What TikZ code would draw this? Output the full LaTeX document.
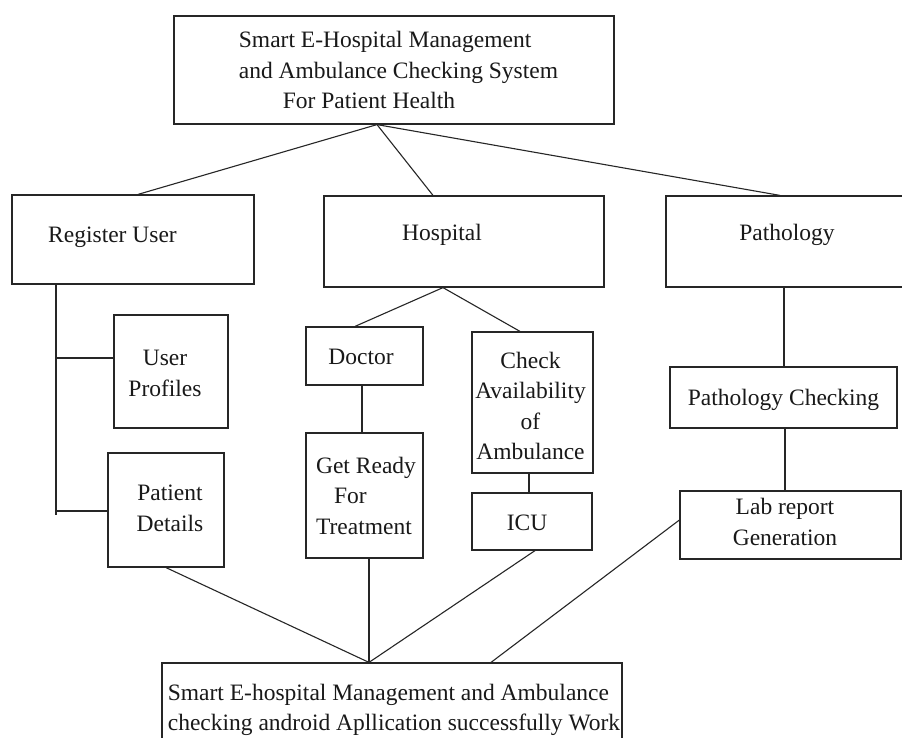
\documentclass[tikz,border=0pt]{standalone}
\usepackage{fontspec}
\setmainfont{Liberation Serif}
\begin{document}
\begin{tikzpicture}[x=1pt,y=-1pt,
  box/.style={draw=black!85, line width=1.2pt, inner sep=0pt},
  txt/.style={font=\fontsize{23.5}{30.5}\selectfont, inner sep=0pt, text=black!90},
  conn/.style={draw=black!85, line width=1.1pt}]
\useasboundingbox (0,0) rectangle (902,738);
\clip (0,0) rectangle (902,738);
\fill[white] (0,0) rectangle (902,738);

\node[box, minimum width=440, minimum height=108,
  label={[txt, align=left, shift={(4.5,0)}]center:{Smart E-Hospital Management\\and Ambulance Checking System\\\hspace*{44pt}For Patient Health}}] (top) at (394,70) {};
\node[box, minimum width=242, minimum height=89,
  label={[txt, shift={(-20.5,-2.5)}]center:Register User}] (ru) at (133,239.5) {};
\node[box, minimum width=280, minimum height=91,
  label={[txt, shift={(-22,-6.5)}]center:Hospital}] (hosp) at (464,241.5) {};
\node[box, minimum width=239, minimum height=91,
  label={[txt, shift={(1.5,-6.5)}]center:Pathology}] (path) at (785.5,241.5) {};
\node[box, minimum width=114, minimum height=113,
  label={[txt, align=center, shift={(-6,2)}]center:{User\\Profiles}}] (up) at (171,371.5) {};
\node[box, minimum width=116, minimum height=114,
  label={[txt, align=center, shift={(4,-1.5)}]center:{Patient\\Details}}] (pd) at (166,510) {};
\node[box, minimum width=117, minimum height=58,
  label={[txt, shift={(-3.5,1)}]center:Doctor}] (doc) at (364.5,356) {};
\node[box, minimum width=117, minimum height=125,
  label={[txt, align=left, shift={(1.5,0)}]center:{Get Ready\\\hspace*{18pt}For\\Treatment}}] (gr) at (364.5,495.5) {};
\node[box, minimum width=121, minimum height=141,
  label={[txt, align=center, shift={(-2,3.5)}]center:{Check\\Availability\\of\\Ambulance}}] (check) at (532.5,402.5) {};
\node[box, minimum width=120, minimum height=57,
  label={[txt, shift={(-5,1.5)}]center:ICU}] (icu) at (532,521.5) {};
\node[box, minimum width=227, minimum height=61,
  label={[txt, shift={(0,2.5)}]center:Pathology Checking}] (pc) at (783.5,397.5) {};
\node[box, minimum width=221, minimum height=68,
  label={[txt, align=center, shift={(-5.5,-3)}]center:{Lab report\\Generation}}] (lab) at (790.5,525) {};
\node[box, minimum width=460, minimum height=97,
  label={[txt, align=left, shift={(2,-1.5)}]center:{Smart E-hospital Management and Ambulance\\checking android Apllication successfully Work}}] (bot) at (392,711.5) {};

\coordinate (rj1) at (56,358);
\coordinate (rj2) at (56,511);
\coordinate (rend) at (56,515);

\draw[conn] ([xshift=-17pt]top.south) -- ([xshift=5pt]ru.north);
\draw[conn] ([xshift=-17pt]top.south) -- ([xshift=-31pt]hosp.north);
\draw[conn] ([xshift=-17pt]top.south) -- ([xshift=-5.5pt]path.north);

\draw[conn] ([xshift=-77pt]ru.south) -- (rend);
\draw[conn] (rj1) -- (rj1 -| up.west);
\draw[conn] (rj2) -- (rj2 -| pd.west);

\draw[conn] ([xshift=-21pt]hosp.south) -- ([xshift=-9.5pt]doc.north);
\draw[conn] ([xshift=-21pt]hosp.south) -- ([xshift=-12.5pt]check.north);
\draw[conn] ([xshift=-2.5pt]doc.south) -- ([xshift=-2.5pt]gr.north);
\draw[conn] ([xshift=-3.5pt]check.south) -- ([xshift=-3pt]icu.north);

\draw[conn] ([xshift=-1.5pt]path.south) -- ([xshift=0.5pt]pc.north);
\draw[conn] ([xshift=1.5pt]pc.south) -- ([xshift=-5.5pt]lab.north);

\draw[conn] (pd.south) -- ([xshift=-23pt]bot.north);
\draw[conn] ([xshift=4.5pt]gr.south) -- ([xshift=-23pt]bot.north);
\draw[conn] ([xshift=3pt]icu.south) -- ([xshift=-23pt]bot.north);
\draw[conn] ([yshift=5pt]lab.west) -- ([xshift=99pt]bot.north);
\end{tikzpicture}
\end{document}
